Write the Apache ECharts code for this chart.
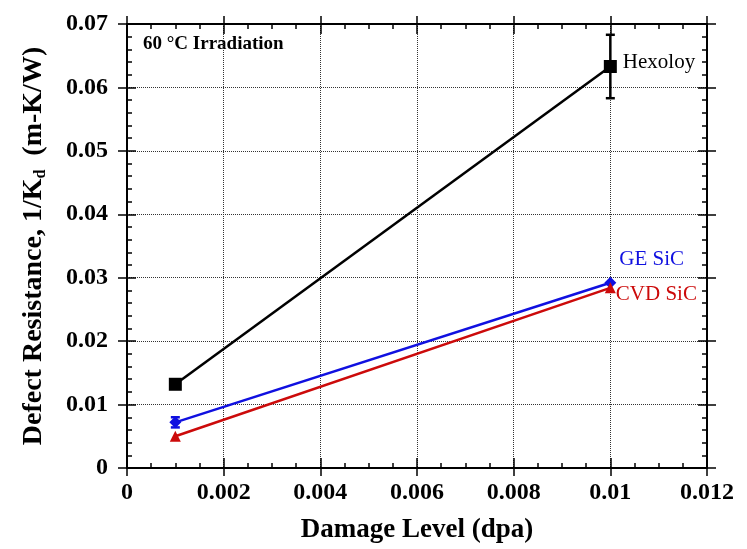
<!DOCTYPE html>
<html>
<head>
<meta charset="utf-8">
<script src="https://cdn.jsdelivr.net/npm/echarts@6/dist/echarts.min.js"></script>
<style>
  html, body { margin: 0; padding: 0; background: #fff; }
  #chart { width: 747px; height: 549px; }
</style>
</head>
<body>
<div id="chart"></div>
<script>
// Damage levels (dpa) and defect resistance values for each material
const doses = [0.001, 0.01];
const hexoloy = [0.0132, 0.0633];
const hexoloyErr = [0.0005, 0.005];
const geSic = [0.0072, 0.0292];
const geSicErr = [0.0008, 0];
const cvdSic = [0.0050, 0.0284];

const xTickLabels = ['0', '0.002', '0.004', '0.006', '0.008', '0.01', '0.012'];
const yTickLabels = ['0', '0.01', '0.02', '0.03', '0.04', '0.05', '0.06', '0.07'];

const SERIF = '"Liberation Serif", "DejaVu Serif", serif';
const X_STEP = 0.002, Y_STEP = 0.01;

function pointsOf(values, labelText, labelColor, labelOffset) {
  return doses.map((d, i) => {
    const item = { value: [d, values[i]] };
    if (labelText && i === doses.length - 1) {
      item.label = {
        show: true, position: 'right', distance: 6, offset: labelOffset,
        formatter: labelText, color: labelColor,
        fontFamily: SERIF, fontSize: 21
      };
    }
    return item;
  });
}

function errorData(values, errs) {
  return doses.map((d, i) => [d, values[i] - errs[i], values[i] + errs[i]])
              .filter((r, i) => errs[i] > 0);
}

function errorSeries(values, errs, color) {
  return {
    type: 'custom',
    xAxisIndex: 0, yAxisIndex: 0,
    z: 3,
    silent: true,
    data: errorData(values, errs),
    renderItem: function (params, api) {
      const lo = api.coord([api.value(0), api.value(1)]);
      const hi = api.coord([api.value(0), api.value(2)]);
      const w = 4.5;
      const style = { stroke: color, lineWidth: 2.5 };
      return {
        type: 'group',
        children: [
          { type: 'line', shape: { x1: lo[0], y1: lo[1], x2: hi[0], y2: hi[1] }, style },
          { type: 'line', shape: { x1: lo[0] - w, y1: lo[1], x2: lo[0] + w, y2: lo[1] }, style },
          { type: 'line', shape: { x1: hi[0] - w, y1: hi[1], x2: hi[0] + w, y2: hi[1] }, style }
        ]
      };
    }
  };
}

const axisLine = { show: true, onZero: false, lineStyle: { color: '#000', width: 2 } };
const tickStyle = { color: '#000', width: 1.5 };

function xAxisPair(position, withLabels) {
  const base = { type: 'value', position, min: 0, max: 0.012, interval: X_STEP, axisLine };
  return [
    Object.assign({}, base, {
      axisTick: { show: true, inside: true, length: 10, lineStyle: tickStyle },
      minorTick: { show: true, splitNumber: 4, length: 5, lineStyle: tickStyle },
      axisLabel: withLabels ? {
        show: true, margin: 13, color: '#000', fontFamily: SERIF, fontWeight: 'bold', fontSize: 24,
        formatter: v => xTickLabels[Math.round(v / X_STEP)]
      } : { show: false },
      splitLine: withLabels ? { show: true, lineStyle: { type: 'dotted', color: '#333', width: 1 } } : { show: false },
      name: withLabels ? 'Damage Level (dpa)' : '',
      nameLocation: 'middle', nameGap: 49,
      nameTextStyle: { color: '#000', fontFamily: SERIF, fontWeight: 'bold', fontSize: 27 }
    }),
    Object.assign({}, base, {
      axisTick: { show: true, inside: false, length: 8, lineStyle: tickStyle },
      axisLabel: { show: false }, splitLine: { show: false }
    })
  ];
}

function yAxisPair(position, withLabels) {
  const base = { type: 'value', position, min: 0, max: 0.07, interval: Y_STEP, axisLine };
  return [
    Object.assign({}, base, {
      axisTick: { show: true, inside: true, length: 9, lineStyle: tickStyle },
      minorTick: { show: true, splitNumber: 5, length: 5, lineStyle: tickStyle },
      axisLabel: withLabels ? {
        show: true, margin: 19, color: '#000', fontFamily: SERIF, fontWeight: 'bold', fontSize: 24,
        formatter: v => yTickLabels[Math.round(v / Y_STEP)]
      } : { show: false },
      splitLine: withLabels ? { show: true, lineStyle: { type: 'dotted', color: '#333', width: 1 } } : { show: false },
      name: withLabels ? 'Defect Resistance, 1/K{sub|d}  (m-K/W)' : '',
      nameLocation: 'middle', nameGap: 78,
      nameTextStyle: {
        color: '#000', fontFamily: SERIF, fontWeight: 'bold', fontSize: 28,
        rich: { sub: { fontFamily: SERIF, fontWeight: 'bold', fontSize: 16, padding: [15, 0, 0, 0] } }
      }
    }),
    Object.assign({}, base, {
      axisTick: { show: true, inside: false, length: 9, lineStyle: tickStyle },
      axisLabel: { show: false }, splitLine: { show: false }
    })
  ];
}

const chart = echarts.init(document.getElementById('chart'), null, { renderer: 'canvas' });

chart.setOption({
  backgroundColor: '#fff',
  animation: false,
  grid: { left: 127, right: 40, top: 24, bottom: 79, containLabel: false },
  xAxis: [].concat(xAxisPair('bottom', true), xAxisPair('top', false)),
  yAxis: [].concat(yAxisPair('left', true), yAxisPair('right', false)),
  graphic: [{
    type: 'text', left: 143, top: 35,
    style: { text: '60 °C Irradiation', fill: '#000', font: 'bold 19px ' + SERIF }
  }],
  series: [
    {
      name: 'Hexoloy', type: 'line', xAxisIndex: 0, yAxisIndex: 0, z: 4,
      data: pointsOf(hexoloy, 'Hexoloy', '#000', [0, -4]),
      symbol: 'rect', symbolSize: 13,
      lineStyle: { color: '#000', width: 2.5 }, itemStyle: { color: '#000' }
    },
    errorSeries(hexoloy, hexoloyErr, '#000'),
    {
      name: 'GE SiC', type: 'line', xAxisIndex: 0, yAxisIndex: 0, z: 4,
      data: pointsOf(geSic, 'GE SiC', '#1010e0', [-3, -23]),
      symbol: 'diamond', symbolSize: 12,
      lineStyle: { color: '#1010e0', width: 2.5 }, itemStyle: { color: '#1010e0' }
    },
    errorSeries(geSic, geSicErr, '#1010e0'),
    {
      name: 'CVD SiC', type: 'line', xAxisIndex: 0, yAxisIndex: 0, z: 4,
      data: pointsOf(cvdSic, 'CVD SiC', '#cc0a0a', [-6, 7]),
      symbol: 'triangle', symbolSize: 11,
      lineStyle: { color: '#cc0a0a', width: 2.5 }, itemStyle: { color: '#cc0a0a' }
    }
  ]
});
</script>
</body>
</html>
